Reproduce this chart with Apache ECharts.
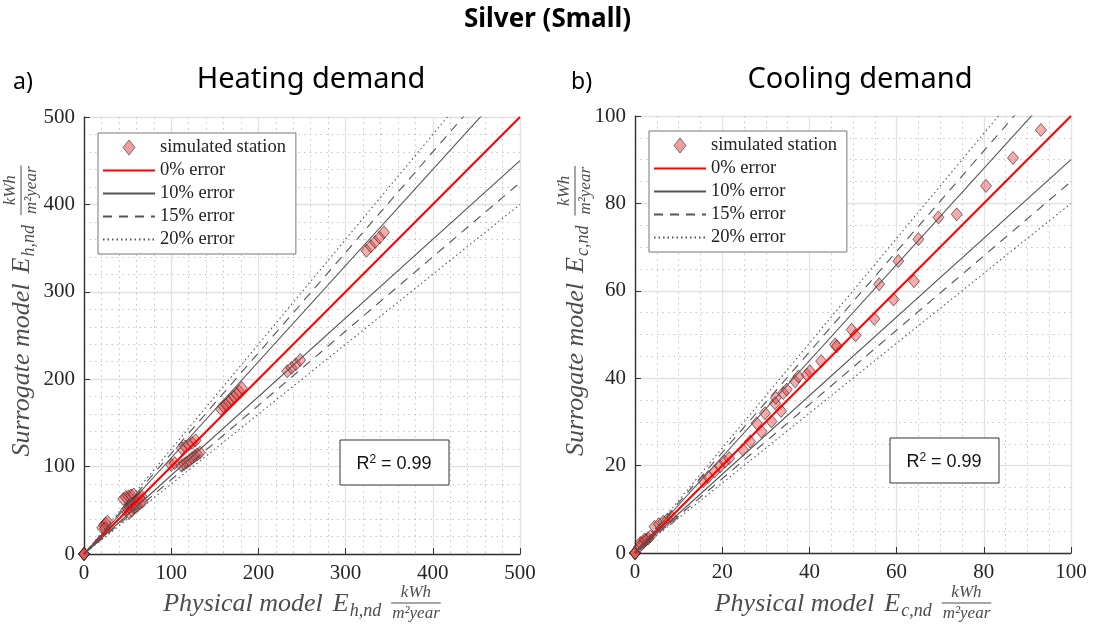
<!DOCTYPE html>
<html>
<head>
<meta charset="utf-8">
<title>Silver (Small)</title>
<script src="https://cdn.jsdelivr.net/npm/echarts@6/dist/echarts.min.js"></script>
<style>
  html, body { margin: 0; background: #fff; }
  #chart { width: 1095px; height: 624px; }
</style>
</head>
<body>
<div id="chart"></div>
<script>
// heating demand, kWh/m2year (physical model -> x, surrogate model -> y)
const heatPhysical = [0, 0, 0, 0,
  21, 23, 25, 27, 24,
  45, 48, 51, 54, 57,
  48, 50, 52, 54, 56, 58, 60, 62, 64, 66, 55, 58, 61, 64, 67, 52,
  100, 104,
  112, 116, 120, 124, 128,
  112, 115, 118, 121, 124, 127, 130, 133,
  157, 160, 163, 166, 169, 172, 175, 178, 181,
  233, 238, 243, 248,
  324, 329, 334, 339, 344];
const heatSurrogate = [0, 0, 0, 0,
  30, 33, 35, 37, 29,
  63, 65, 66, 67, 68,
  50, 52, 54, 55, 57, 59, 61, 63, 64, 66, 50, 53, 55, 58, 60, 47,
  102, 104,
  121, 123, 125, 127, 130,
  101, 103, 105, 107, 110, 112, 114, 116,
  166, 169, 171, 174, 177, 180, 183, 186, 190,
  209, 213, 217, 222,
  347, 352, 357, 362, 368];

// cooling demand, kWh/m2year
const coolPhysical = [0, 0, 0, 0,
  1, 1.5, 2, 2.5, 3, 3.5, 1.2, 2.2,
  4.5, 5.5, 6.5, 7.5, 8.5,
  15.7, 16.8, 18.3, 19.5, 20.6, 21.6,
  24.8, 26.4, 27.9, 29.0, 29.8, 31.3, 32.1, 33.5,
  32.3, 34.0, 34.8, 36.7, 37.5, 39.4, 40.1, 42.7, 45.9, 46.3,
  49.7, 50.6, 54.9, 56.0, 59.3, 60.4, 64.0, 65.0, 69.6, 73.8,
  80.5, 86.7, 93.1];
const coolSurrogate = [0, 0, 0, 0,
  1.5, 2, 2.5, 3, 3.3, 3.8, 2.3, 3.1,
  6.0, 6.6, 7.2, 7.7, 8.1,
  16.4, 17.4, 18.7, 19.8, 20.9, 21.7,
  23.6, 25.5, 29.7, 27.8, 32.0, 30.1, 34.3, 32.5,
  35.5, 36.6, 37.4, 39.3, 40.4, 40.8, 41.6, 43.9, 47.7, 47.3,
  51.1, 49.8, 53.6, 61.5, 58.0, 66.8, 62.2, 71.8, 76.8, 77.5,
  84.0, 90.4, 96.8];

const heatTicks = [0, 100, 200, 300, 400, 500];
const coolTicks = [0, 20, 40, 60, 80, 100];
const errorLevels = [0, 10, 15, 20];   // percent
const errorNames = ['0% error', '10% error', '15% error', '20% error'];
const r2Text = ['0.99', '0.99'];

const lineLook = {
  0: { color: '#ff0000', width: 2, type: 'solid' },
  10: { color: '#555', width: 1.1, type: 'solid' },
  15: { color: '#555', width: 1.1, type: [9, 7] },
  20: { color: '#555', width: 1.1, type: [1.5, 3] }
};

const serif = 'Liberation Serif';
const sans = 'Noto Sans';

const measureCtx = document.createElement('canvas').getContext('2d');
function textWidth (str, font) {
  measureCtx.font = font;
  return measureCtx.measureText(str).width;
}

// "main E_sub  kWh / m^2 year" laid out on a local baseline
function mathLabel (main, sub) {
  const f = 'italic 26px ' + serif;
  const fs = 'italic 18px ' + serif;
  const ff = 'italic 17px ' + serif;
  const col = '#4d4d4d';
  const kids = [];
  let x = 0;
  kids.push({ type: 'text', x: x, y: 0, style: { text: main, font: f, fill: col, verticalAlign: 'middle' } });
  x += textWidth(main, f) + 10;
  kids.push({ type: 'text', x: x, y: 0, style: { text: 'E', font: f, fill: col, verticalAlign: 'middle' } });
  x += textWidth('E', f) + 1;
  kids.push({ type: 'text', x: x, y: 7, style: { text: sub, font: fs, fill: col, verticalAlign: 'middle' } });
  x += textWidth(sub, fs) + 10;
  const num = 'kWh';
  const den = 'm²year';
  const w = Math.max(textWidth(num, ff), textWidth(den, ff)) + 2;
  kids.push({ type: 'text', x: x + w / 2, y: -11, style: { text: num, font: ff, fill: col, align: 'center', verticalAlign: 'middle' } });
  kids.push({ type: 'line', shape: { x1: x, y1: -1, x2: x + w, y2: -1 }, style: { stroke: col, lineWidth: 1 } });
  kids.push({ type: 'text', x: x + w / 2, y: 10, style: { text: den, font: ff, fill: col, align: 'center', verticalAlign: 'middle' } });
  x += w;
  return { kids: kids, width: x };
}

function xLabel (cx, cy, sub) {
  const m = mathLabel('Physical model', sub);
  return { type: 'group', x: cx - m.width / 2, y: cy, children: m.kids };
}
function yLabel (cx, cy, sub) {
  const m = mathLabel('Surrogate model', sub);
  return { type: 'group', x: cx, y: cy + m.width / 2, rotation: Math.PI / 2, children: m.kids };
}

function r2Box (x, y, value) {
  return [
    { type: 'rect', shape: { x: x, y: y, width: 109, height: 45 }, style: { fill: '#fff', stroke: '#333', lineWidth: 1 }, z: 10 },
    {
      type: 'text', x: x + 54, y: y + 24, z: 11,
      style: {
        text: '{a|R}{b|2}{a| = ' + value + '}',
        align: 'center', verticalAlign: 'middle',
        rich: {
          a: { fontFamily: 'Liberation Sans', fontSize: 18, fill: '#111' },
          b: { fontFamily: 'Liberation Sans', fontSize: 12, fill: '#111', verticalAlign: 'top', padding: [0, 0, 8, 0] }
        }
      }
    }
  ];
}

function makeAxis (idx, ticks, minorSplit) {
  return {
    type: 'value',
    gridIndex: idx,
    min: ticks[0],
    max: ticks[ticks.length - 1],
    interval: ticks[1] - ticks[0],
    axisLine: { show: true, lineStyle: { color: '#333', width: 1.4 } },
    axisTick: { show: true, inside: true, length: 6, lineStyle: { color: '#333' } },
    axisLabel: { color: '#262626', fontFamily: serif, fontSize: 21, margin: 9 },
    splitLine: { show: true, lineStyle: { color: '#e2e2e2', width: 1.3 } },
    minorTick: { show: false, splitNumber: minorSplit },
    minorSplitLine: { show: true, lineStyle: { color: '#c4c4c4', width: 1, type: [1.5, 4] } }
  };
}

function buildSeries (idx, phys, surr, max) {
  const list = [{
    name: 'simulated station',
    type: 'scatter',
    xAxisIndex: idx,
    yAxisIndex: idx,
    data: phys.map((v, i) => [v, surr[i]]),
    symbol: 'diamond',
    symbolSize: [11, 13],
    itemStyle: { color: 'rgba(235,70,70,0.45)', borderColor: 'rgba(40,20,20,0.75)', borderWidth: 0.8, opacity: 1 },
    z: 2
  }];
  errorLevels.forEach((e, k) => {
    const signs = e === 0 ? [1] : [1, -1];
    signs.forEach(sg => {
      const f = 1 + sg * e / 100;
      list.push({
        name: errorNames[k],
        type: 'line',
        xAxisIndex: idx,
        yAxisIndex: idx,
        data: [[0, 0], [max, max * f]],
        symbol: 'none',
        clip: true,
        silent: true,
        lineStyle: lineLook[e],
        itemStyle: { color: lineLook[e].color },
        z: 3
      });
    });
  });
  return list;
}

const hidden = 'rgba(0,0,0,0)';
function makeLegend (left, top) {
  const items = [{
    name: 'simulated station',
    icon: 'path://M0,-10L8,0L0,10L-8,0Z',
    itemStyle: { color: 'rgba(240,140,140,0.85)', borderColor: '#555', borderWidth: 0.8 }
  }].concat(errorNames.map(n => ({ name: n, itemStyle: { color: hidden, borderColor: hidden, borderWidth: 0 } })));
  return {
    orient: 'vertical',
    left: left,
    top: top,
    data: items,
    itemWidth: 52,
    itemHeight: 15,
    itemGap: 4,
    symbolKeepAspect: true,
    padding: [5, 10, 5, 4],
    backgroundColor: '#fff',
    borderColor: '#777',
    borderWidth: 1,
    textStyle: { fontFamily: serif, fontSize: 18.5, color: '#222' },
    selectedMode: false
  };
}

const chart = echarts.init(document.getElementById('chart'));

chart.setOption({
  animation: false,
  backgroundColor: '#fff',
  title: [
    { text: 'Silver (Small)', left: 'center', top: 2, textStyle: { fontFamily: sans, fontSize: 26, fontWeight: 'bold', color: '#000' } },
    { text: 'Heating demand', left: 306, top: 60, textAlign: 'center', textStyle: { fontFamily: sans, fontSize: 29, fontWeight: 'normal', color: '#000' } },
    { text: 'Cooling demand', left: 855, top: 60, textAlign: 'center', textStyle: { fontFamily: sans, fontSize: 29, fontWeight: 'normal', color: '#000' } },
    { text: 'a)', left: 8, top: 66, textStyle: { fontFamily: sans, fontSize: 23, fontWeight: 'normal', color: '#000' } },
    { text: 'b)', left: 566, top: 66, textStyle: { fontFamily: sans, fontSize: 23, fontWeight: 'normal', color: '#000' } }
  ],
  legend: [makeLegend(98, 133), makeLegend(649, 131)],
  grid: [
    { left: 84, top: 117, width: 436, height: 437 },
    { left: 635, top: 116, width: 436, height: 437 }
  ],
  xAxis: [makeAxis(0, heatTicks, 5), makeAxis(1, coolTicks, 4)],
  yAxis: [makeAxis(0, heatTicks, 5), makeAxis(1, coolTicks, 4)],
  series: buildSeries(0, heatPhysical, heatSurrogate, heatTicks[heatTicks.length - 1])
    .concat(buildSeries(1, coolPhysical, coolSurrogate, coolTicks[coolTicks.length - 1])),
  graphic: [
    xLabel(302, 604, 'h,nd'),
    xLabel(853, 604, 'c,nd'),
    yLabel(22, 311, 'h,nd'),
    yLabel(576, 311, 'c,nd')
  ].concat(r2Box(340, 440, r2Text[0]), r2Box(890, 438, r2Text[1]))
});
</script>
</body>
</html>
